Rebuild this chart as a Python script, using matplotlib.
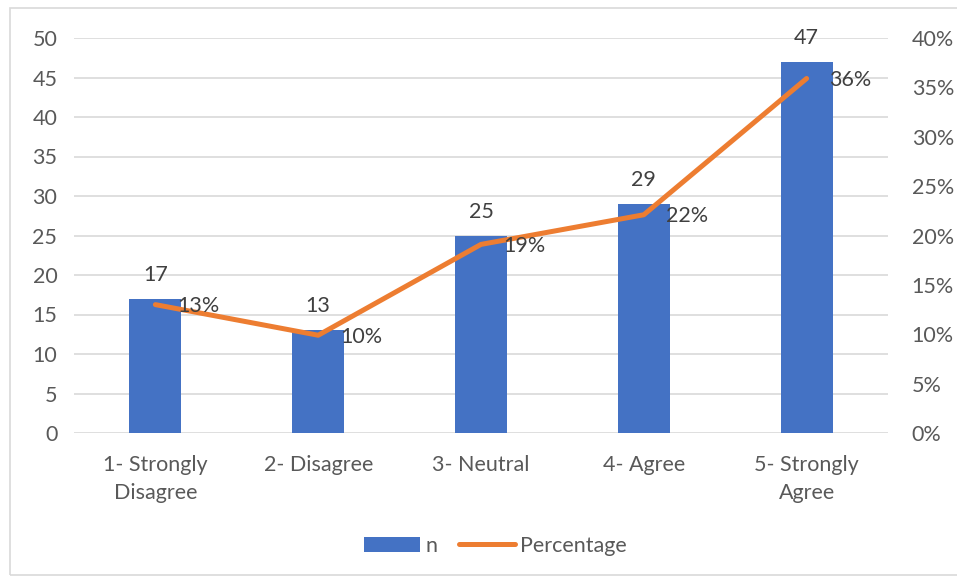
import matplotlib.pyplot as plt
from matplotlib.patches import Rectangle
from matplotlib.ticker import PercentFormatter

categories = ["1- Strongly\nDisagree", "2- Disagree", "3- Neutral", "4- Agree", "5- Strongly\nAgree"]
n = [17, 13, 25, 29, 47]
percentage = [0.13, 0.099, 0.191, 0.221, 0.359]
pct_labels = ["13%", "10%", "19%", "22%", "36%"]

plt.rcParams["font.family"] = ["Lato", "DejaVu Sans"]
text_color = "#595959"
fs = 15.5

fig = plt.figure(figsize=(9.57, 5.8), dpi=100)
fig.patches.append(Rectangle((10 / 957, 5 / 580), 960 / 957, 567 / 580, transform=fig.transFigure,
                             fill=False, edgecolor="#D9D9D9", linewidth=1.2))
ax = fig.add_axes([74 / 957, 1 - 433 / 580, 814 / 957, 395 / 580])
x = range(len(categories))

bars = ax.bar(x, n, width=0.32, color="#4472C4", label="n", zorder=2)
ax.set_ylim(0, 50)
ax.set_xlim(-0.5, 4.5)
ax.set_yticks(range(0, 51, 5))
ax.set_xticks(list(x))
ax.set_xticklabels(categories, linespacing=1.5)
ax.grid(axis="y", color="#D9D9D9", linewidth=1.2, zorder=0)
ax.set_axisbelow(True)
for s in ax.spines.values():
    s.set_visible(False)
ax.tick_params(length=0, labelsize=fs, colors=text_color, pad=12)
ax.tick_params(axis="x", pad=16)
for i, v in enumerate(n):
    ax.annotate(str(v), (i, v), xytext=(0, 10), textcoords="offset points",
                ha="center", va="bottom", fontsize=fs, color="#404040")

ax2 = ax.twinx()
line, = ax2.plot(list(x), percentage, color="#ED7D31", linewidth=3.6, solid_capstyle="round",
                 label="Percentage", zorder=3)
ax2.set_ylim(0, 0.4)
ax2.set_yticks([i * 0.05 for i in range(9)])
ax2.yaxis.set_major_formatter(PercentFormatter(1.0, decimals=0))
for s in ax2.spines.values():
    s.set_visible(False)
ax2.tick_params(length=0, labelsize=fs, colors=text_color, pad=17)
for i, v in enumerate(percentage):
    ax2.annotate(pct_labels[i], (i, v), xytext=(16, -1), textcoords="offset points",
                 ha="left", va="center", fontsize=fs, color="#404040")

fig.legend([bars, line], ["n", "Percentage"], loc="center", bbox_to_anchor=(0.518, 1 - 546 / 580),
           ncol=2, frameon=False, fontsize=fs, labelcolor=text_color, handlelength=2.6,
           handleheight=0.7, columnspacing=1.0, handletextpad=0.25)

fig.savefig("out.png", dpi=100)
